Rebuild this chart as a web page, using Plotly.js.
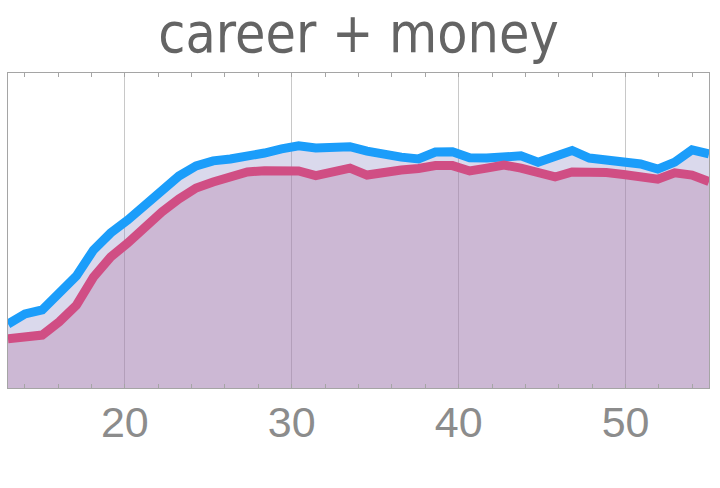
<!DOCTYPE html>
<html>
<head>
<meta charset="utf-8">
<script src="https://cdn.plot.ly/plotly-3.0.1.min.js"></script>
<style>html,body{margin:0;padding:0;background:#fff;}#chart{width:720px;height:488px;}</style>
</head>
<body>
<div id="chart"></div>
<script>
// ages (42 evenly spaced samples from 13 to 55)
const ages = [13.00, 14.02, 15.05, 16.07, 17.10, 18.12, 19.15, 20.17, 21.20, 22.22,
  23.24, 24.27, 25.29, 26.32, 27.34, 28.37, 29.39, 30.41, 31.44, 32.46,
  33.49, 34.51, 35.54, 36.56, 37.59, 38.61, 39.63, 40.66, 41.68, 42.71,
  43.73, 44.76, 45.78, 46.80, 47.83, 48.85, 49.88, 50.90, 51.93, 52.95,
  53.98, 55.00];

const careerValues = [20.3, 23.5, 24.8, 29.8, 35.6, 43.8, 49.2, 53.3, 57.8, 62.2,
  67.3, 70.5, 72.1, 72.7, 73.3, 74.6, 75.9, 76.9, 76.2, 76.3,
  76.6, 75.2, 74.0, 73.3, 72.7, 74.9, 75.0, 73.1, 73.0, 73.7,
  73.7, 71.7, 73.7, 75.4, 73.0, 72.4, 71.7, 71.1, 69.5, 71.7,
  75.6, 74.3];

const moneyValues = [15.6, 16.5, 16.8, 21.0, 26.3, 35.2, 41.6, 46.0, 51.1, 55.9,
  60.0, 63.5, 65.4, 67.3, 68.6, 69.0, 68.9, 68.9, 67.4, 68.9,
  69.8, 67.6, 68.6, 69.2, 69.7, 70.6, 70.6, 68.9, 69.8, 70.8,
  69.8, 68.4, 67.0, 68.6, 68.7, 68.4, 67.8, 67.1, 66.3, 68.3,
  67.6, 65.5];

const seriesNames = ['career', 'money'];
const titleText = 'career + money';

const traces = [
  {
    x: ages, y: careerValues, name: seriesNames[0], type: 'scatter', mode: 'lines',
    line: {color: 'rgb(27,157,250)', width: 9},
    fill: 'tozeroy', fillcolor: 'rgba(150,145,200,0.35)'
  },
  {
    x: ages, y: moneyValues, name: seriesNames[1], type: 'scatter', mode: 'lines',
    line: {color: 'rgb(208,78,132)', width: 9},
    fill: 'tozeroy', fillcolor: 'rgba(171,109,154,0.30)'
  }
];

const layout = {
  width: 720, height: 488,
  margin: {l: 8, r: 11, t: 73, b: 100, pad: 0},
  paper_bgcolor: '#fff', plot_bgcolor: '#fff',
  showlegend: false,
  title: {
    text: titleText, x: 0.5, xanchor: 'center', xref: 'paper',
    y: 0.932, yanchor: 'middle', yref: 'container',
    font: {family: 'DejaVu Sans Condensed, DejaVu Sans, sans-serif', size: 55, color: 'rgb(100,100,100)'}
  },
  xaxis: {
    range: [13, 55], tick0: 0, dtick: 10,
    showgrid: true, gridcolor: 'rgb(200,200,200)', gridwidth: 1,
    zeroline: false,
    showline: true, linecolor: 'rgb(165,165,165)', linewidth: 1, mirror: 'ticks',
    ticks: 'inside', ticklen: 4, tickcolor: 'rgb(165,165,165)',
    minor: {dtick: 2, ticks: 'inside', ticklen: 4, tickcolor: 'rgb(165,165,165)', showgrid: false},
    tickfont: {family: 'Liberation Sans, Arial, sans-serif', size: 43, color: 'rgb(140,140,140)'},
    ticklabelstandoff: -4
  },
  yaxis: {
    range: [0, 100],
    showgrid: false, zeroline: false, showticklabels: false, ticks: '',
    showline: true, linecolor: 'rgb(165,165,165)', linewidth: 1, mirror: true
  }
};

Plotly.newPlot('chart', traces, layout, {displayModeBar: false, staticPlot: true});
</script>
</body>
</html>
